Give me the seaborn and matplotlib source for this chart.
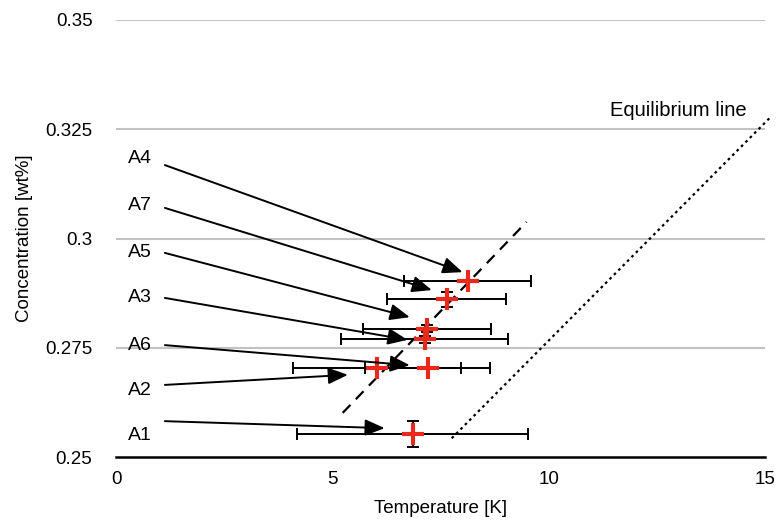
import matplotlib
matplotlib.use("Agg")
import matplotlib.pyplot as plt
import seaborn as sns
import pandas as pd

# ---- data ----
samples = ["A1", "A2", "A3", "A4", "A5", "A6", "A7"]
temperature = [6.86, 6.03, 7.14, 8.13, 7.18, 7.20, 7.64]
concentration = [0.2553, 0.2704, 0.2770, 0.2903, 0.2793, 0.2704, 0.2861]
temperature_err = [2.67, 1.95, 1.93, 1.47, 1.48, 1.44, 1.37]
concentration_err = [0.0029, 0.0, 0.0008, 0.0, 0.0008, 0.0, 0.0017]

fit_T = [5.24, 9.49]
fit_C = [0.2601, 0.3038]
equil_T = [7.76, 15.1]
equil_C = [0.2543, 0.3275]

x_ticks = [0, 5, 10, 15]
y_ticks = [0.25, 0.275, 0.3, 0.325, 0.35]
y_tick_labels = ["0.25", "0.275", "0.3", "0.325", "0.35"]

# annotation layout (label position, arrow tail, arrow head) per sample
label_pos = {"A1": (0.55, 0.2550), "A2": (0.55, 0.2653), "A3": (0.55, 0.2864),
             "A4": (0.55, 0.3184), "A5": (0.55, 0.2969), "A6": (0.55, 0.2756),
             "A7": (0.55, 0.3076)}
arrow_tail = {"A1": (1.13, 0.2582), "A2": (1.13, 0.2665), "A3": (1.13, 0.2864),
              "A4": (1.13, 0.3168), "A5": (1.13, 0.2967), "A6": (1.13, 0.2756),
              "A7": (1.13, 0.3070)}
arrow_head = {"A1": (6.21, 0.2566), "A2": (5.36, 0.2688), "A3": (6.74, 0.2768),
              "A4": (8.01, 0.2923), "A5": (6.79, 0.2820), "A6": (6.79, 0.2710),
              "A7": (7.30, 0.2882)}

df = pd.DataFrame({"sample": samples, "T": temperature, "C": concentration,
                   "Terr": temperature_err, "Cerr": concentration_err})

sns.set_theme(style="white")
plt.rcParams["font.family"] = ["Liberation Sans", "DejaVu Sans"]
plt.rcParams.update({"text.color": "black", "axes.labelcolor": "black",
                     "xtick.color": "black", "ytick.color": "black"})

fig = plt.figure(figsize=(7.78, 5.22), dpi=100)
ax = fig.add_axes([116 / 778, 1 - 457 / 522, (765 - 116) / 778, (457 - 20) / 522])

# grid lines
for yv in y_ticks[1:]:
    ax.axhline(yv, color="#c2c2c2", lw=1.5, zorder=0)

# trend lines
sns.lineplot(x=fit_T, y=fit_C, ax=ax, color="black", lw=1.6,
             linestyle=(0, (5, 3.5)), zorder=2)
sns.lineplot(x=equil_T, y=equil_C, ax=ax, color="black", lw=1.6,
             linestyle=(0, (1.2, 1.6)), zorder=2)
ax.lines[-1].set_clip_on(False)

# error bars
ax.errorbar(df["T"], df["C"], xerr=df["Terr"], yerr=df["Cerr"], fmt="none",
            ecolor="black", elinewidth=1.4, capsize=4.5, capthick=1.4, zorder=3)

# red cross markers
sns.scatterplot(data=df, x="T", y="C", ax=ax, marker="+", s=240,
                color="#e8291c", linewidth=3.0, zorder=4, legend=False)

# labels and arrows
for s in samples:
    ax.text(*label_pos[s], s, fontsize=14, ha="center", va="center")
    ax.annotate("", xy=arrow_head[s], xytext=arrow_tail[s],
                arrowprops=dict(arrowstyle="-|>,head_length=0.6,head_width=0.25",
                                color="black", lw=1.4,
                                mutation_scale=20, shrinkA=0, shrinkB=0),
                zorder=5)

ax.text(13.0, 0.3294, "Equilibrium line", fontsize=14.5, ha="center", va="center")

ax.set_xlim(0, 15)
ax.set_ylim(0.25, 0.35)
ax.set_xticks(x_ticks)
ax.set_xticklabels([str(v) for v in x_ticks], fontsize=13.5)
ax.set_yticks(y_ticks)
ax.set_yticklabels(y_tick_labels, fontsize=13.5)
ax.tick_params(axis="y", length=0, pad=17)
ax.tick_params(axis="x", length=0, pad=10)
ax.set_xlabel("Temperature [K]", fontsize=13.5, labelpad=9)
ax.set_ylabel("Concentration [wt%]", fontsize=13.5, labelpad=9)

for sp in ["top", "right", "left"]:
    ax.spines[sp].set_visible(False)
ax.spines["bottom"].set_color("black")
ax.spines["bottom"].set_linewidth(1.8)

fig.savefig("out.png", dpi=100)
